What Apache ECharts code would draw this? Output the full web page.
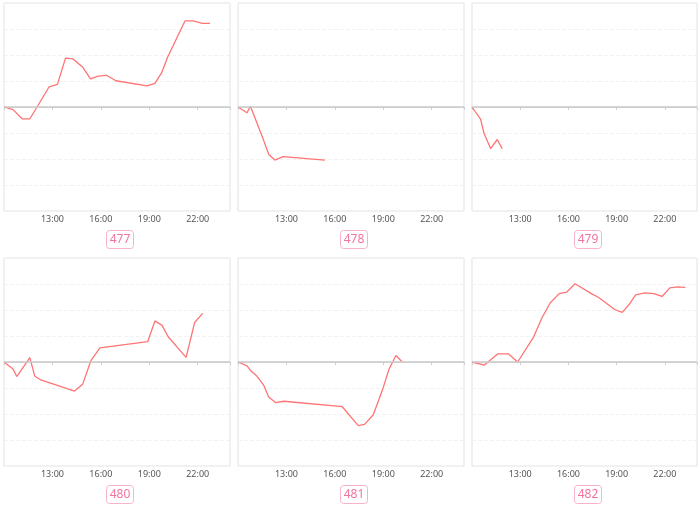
<!DOCTYPE html>
<html>
<head>
<meta charset="utf-8">
<script src="https://cdn.jsdelivr.net/npm/echarts@6/dist/echarts.min.js"></script>
<style>html,body{margin:0;padding:0;background:#fff;}#c{width:700px;height:510px;}</style>
</head>
<body>
<div id="c"></div>
<script>
// panel labels
const panelNames = ['477', '478', '479', '480', '481', '482'];
// x tick labels (hours)
const xTickHours = [13, 16, 19, 22];

// times (hours) and values for each panel
const t477 = [10.0, 10.56, 11.14, 11.6, 12.79, 13.31, 13.81, 14.28, 14.86, 15.36, 15.83, 16.35, 16.93, 18.87, 19.35, 19.76, 20.14, 21.21, 21.73, 22.28, 22.76];
const v477 = [0, -0.1, -0.46, -0.46, 0.77, 0.87, 1.88, 1.85, 1.54, 1.08, 1.19, 1.22, 1.01, 0.81, 0.91, 1.31, 1.92, 3.31, 3.31, 3.22, 3.22];

const t478 = [10.0, 10.56, 10.77, 11.51, 11.9, 12.28, 12.79, 15.38];
const v478 = [0, -0.22, 0.03, -1.15, -1.82, -2.04, -1.91, -2.04];

const t479 = [10.0, 10.54, 10.75, 11.16, 11.57, 11.88];
const v479 = [0, -0.48, -1.02, -1.6, -1.25, -1.6];

const t480 = [10.0, 10.56, 10.79, 11.6, 11.91, 12.28, 14.37, 14.87, 15.38, 15.94, 18.9, 19.35, 19.79, 20.18, 21.28, 21.81, 22.31];
const v480 = [0, -0.27, -0.56, 0.17, -0.55, -0.69, -1.12, -0.86, 0.05, 0.54, 0.78, 1.58, 1.41, 0.96, 0.18, 1.52, 1.87];

const t481 = [10.0, 10.56, 10.81, 11.18, 11.6, 11.9, 12.32, 12.84, 16.46, 17.45, 17.84, 18.38, 18.94, 19.35, 19.78, 20.18];
const v481 = [0, -0.15, -0.35, -0.55, -0.9, -1.35, -1.56, -1.51, -1.72, -2.45, -2.4, -2.03, -1.09, -0.29, 0.25, 0];

const t482 = [10.0, 10.77, 11.59, 12.28, 12.84, 13.83, 14.35, 14.86, 15.42, 15.9, 16.41, 17.45, 17.86, 18.9, 19.35, 19.76, 20.18, 20.76, 21.31, 21.83, 22.31, 22.82, 23.28];
const v482 = [0, -0.12, 0.31, 0.31, 0, 0.96, 1.69, 2.27, 2.63, 2.69, 3.01, 2.62, 2.49, 2.01, 1.91, 2.2, 2.58, 2.66, 2.63, 2.52, 2.85, 2.89, 2.87];

const times = [t477, t478, t479, t480, t481, t482];
const values = [v477, v478, v479, v480, v481, v482];

const colLefts = [4, 238, 472];
const rowTops = [3, 258];
const gw = 226, gh = 208;

const grids = [], xAxes = [], yAxes = [], series = [], titles = [];
for (let i = 0; i < 6; i++) {
  const col = i % 3, row = Math.floor(i / 3);
  const left = colLefts[col], top = rowTops[row];
  grids.push({left: left, top: top, width: gw, height: gh, show: true, borderColor: '#e2e2e2', borderWidth: 1, backgroundColor: 'transparent'});
  xAxes.push({
    type: 'value', gridIndex: i, min: 10, max: 24, interval: 3,
    axisLine: {show: true, lineStyle: {color: '#e2e2e2'}},
    axisTick: {show: true, length: 3, lineStyle: {color: '#d0d0d0'}},
    splitLine: {show: false},
    axisLabel: {
      color: '#555', fontSize: 9, fontFamily: 'Noto Sans', margin: 4,
      formatter: function (v) { return xTickHours.indexOf(v) >= 0 ? v + ':00' : ''; }
    }
  });
  yAxes.push({
    type: 'value', gridIndex: i, min: -4, max: 4, interval: 1,
    axisLine: {show: false}, axisTick: {show: false}, axisLabel: {show: false},
    splitLine: {show: true, lineStyle: {color: '#f2f2f2', type: 'dashed'}}
  });
  const data = times[i].map((t, k) => [t, values[i][k]]);
  series.push({
    type: 'line', xAxisIndex: i, yAxisIndex: i, data: data,
    showSymbol: false, symbol: 'none', silent: true,
    lineStyle: {color: '#ff7474', width: 1.3},
    markLine: {
      silent: true, symbol: 'none', label: {show: false},
      lineStyle: {color: '#c8c8c8', width: 1.5, type: 'solid'},
      data: [{yAxis: 0}], animation: false
    },
    animation: false
  });
  titles.push({
    text: panelNames[i], left: left + gw / 2, top: top + gh + 19, textAlign: 'center',
    borderColor: '#f8b3c8', borderWidth: 1, borderRadius: 3, padding: [3, 3, 3, 3],
    textStyle: {fontSize: 12, lineHeight: 13, color: '#f2739c', fontWeight: 'normal', fontFamily: 'Noto Sans'}
  });
}

const chart = echarts.init(document.getElementById('c'), null, {renderer: 'canvas'});
chart.setOption({
  animation: false,
  title: titles,
  grid: grids,
  xAxis: xAxes,
  yAxis: yAxes,
  series: series
});
</script>
</body>
</html>
